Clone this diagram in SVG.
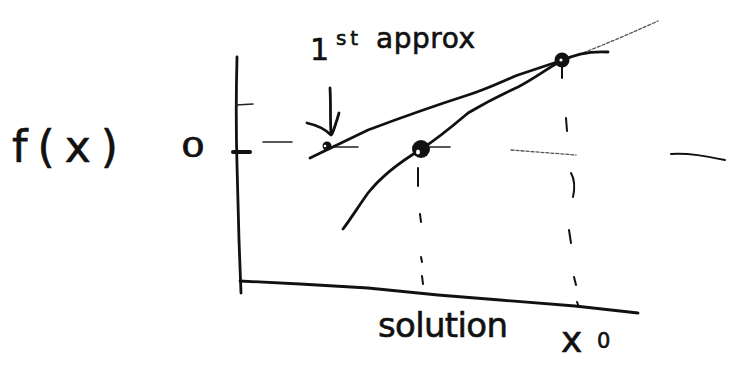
<svg xmlns="http://www.w3.org/2000/svg" width="735" height="369" viewBox="0 0 735 369">
<style>
.ink{fill:none;stroke:#111;stroke-width:2.8;stroke-linecap:round;stroke-linejoin:round}
.thin{fill:none;stroke:#222;stroke-width:1.6;stroke-linecap:round}
.faint{fill:none;stroke:#555;stroke-width:1.3;stroke-linecap:round;stroke-dasharray:3 2}
.dash{fill:none;stroke:#111;stroke-width:2;stroke-linecap:round}
.lbl{font-family:"DejaVu Sans","Liberation Sans",sans-serif;fill:#111;stroke:#111;stroke-width:0.6}
</style>
<rect width="735" height="369" fill="#fff"/>
<g id="axes">
<path class="ink" d="M237,57 C236,95 236,130 237,165 L239,240 L241,293"/>
<path class="ink" d="M240,281 L300,284 L368,288 L438,295 L500,300 L575,306 L638,313"/>
<path class="thin" d="M236,105 L253,104"/>
<path class="ink" style="stroke-width:4" d="M233,152 L250,152"/>
</g>
<g id="zero-level">
<path class="thin" d="M263,142 L292,142"/>
<path class="thin" d="M333,147 L358,147"/>
<path class="thin" d="M430,147 L450,147"/>
<path class="faint" d="M511,150 L576,155"/>
<path class="ink" style="stroke-width:2" d="M671,154 C690,153 705,156 725,160"/>
</g>
<g id="tangent">
<path class="ink" d="M310,158 L368,130 C400,118 440,104 468,95 C490,88 505,80 518,75 L560,61"/>
<path class="faint" d="M560,61 C590,51 620,38 658,21"/>
</g>
<g id="curve">
<path class="ink" d="M343,229 C350,220 358,207 368,193 C380,178 395,165 420,150 C440,137 455,124 468,113 C490,100 505,93 518,87 C535,78 548,68 561,61 C575,54 590,51 608,52"/>
</g>
<g id="verticals">
<path class="dash" d="M418,168 L418,186"/>
<path class="dash" d="M420,214 L421,222"/>
<path class="dash" d="M421,257 L422,262"/>
<path class="dash" d="M422,276 L423,284"/>
<path class="dash" d="M562,66 L562,78"/>
<path class="dash" d="M566,118 L567,131"/>
<path class="dash" d="M571,173 C575,180 575,188 573,197"/>
<path class="dash" d="M569,230 L571,243"/>
<path class="dash" d="M574,277 L576,285"/>
<path class="dash" d="M577,302 L579,307"/>
</g>
<g id="points">
<g id="p-first"><circle cx="327" cy="146" r="4.5" fill="#111"/><circle cx="325" cy="146" r="1.3" fill="#fff"/></g>
<g id="p-solution"><circle cx="421" cy="149" r="9" fill="#111"/><ellipse cx="418" cy="152" rx="2" ry="2.5" fill="#fff"/></g>
<g id="p-x0"><circle cx="562" cy="60" r="7.5" fill="#111"/><circle cx="561" cy="60" r="1.6" fill="#fff"/></g>
</g>
<g id="connectors">
<path class="ink" d="M330,88 C331,105 330,120 331,133"/>
<path class="ink" d="M307,123 C316,125 325,129 331,135"/>
<path class="ink" d="M339,113 C337,120 335,127 332,134"/>
</g>
<g id="labels">
<text class="lbl" x="12" y="162" font-size="44" textLength="106" lengthAdjust="spacing">f(x)</text>
<text class="lbl" x="181" y="157" font-size="26" textLength="24" lengthAdjust="spacingAndGlyphs">0</text>
<text class="lbl"><tspan x="310" y="60" font-size="30">1</tspan><tspan x="336" y="45" font-size="20" textLength="22" lengthAdjust="spacing">st</tspan><tspan x="376" y="48" font-size="28" textLength="99" lengthAdjust="spacing">approx</tspan></text>
<text class="lbl" x="378" y="337" font-size="34" textLength="130" lengthAdjust="spacing">solution</text>
<text class="lbl"><tspan x="561" y="352" font-size="36">x</tspan><tspan x="597" y="348" font-size="21">0</tspan></text>
</g>
</svg>
